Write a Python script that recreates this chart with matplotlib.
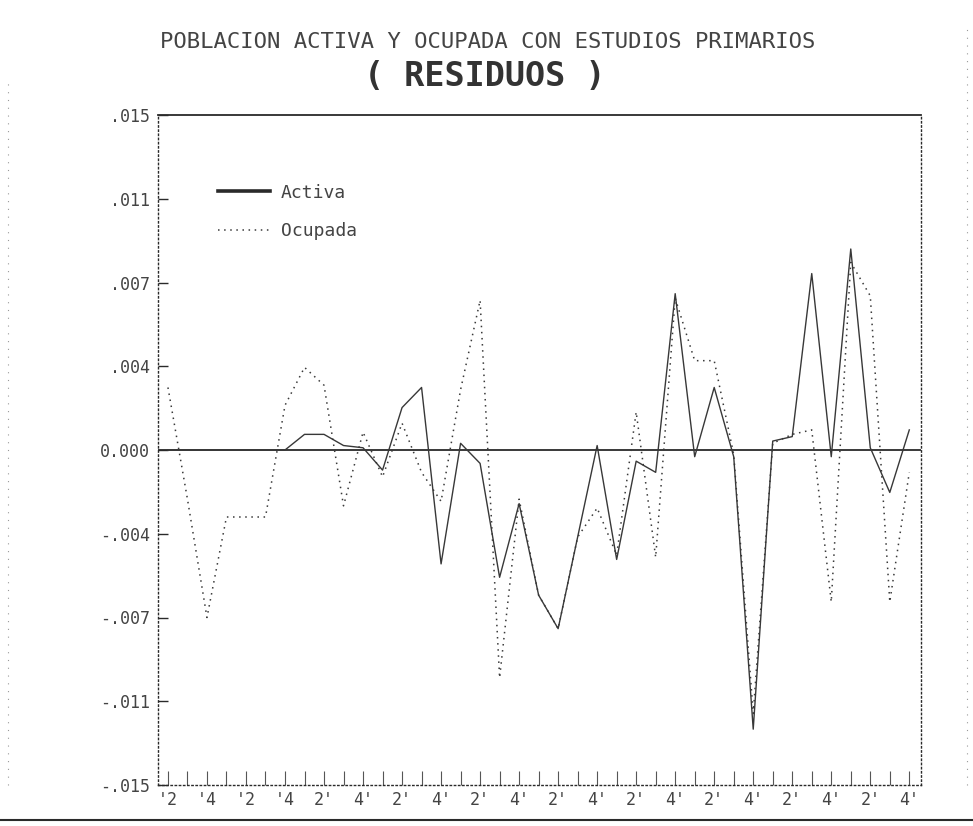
import matplotlib
matplotlib.use("Agg")
import matplotlib.pyplot as plt
from matplotlib.lines import Line2D
import numpy as np

# ---------------- data (quarterly residuals) ----------------
activa = [0.0, 0.0, 0.0, 0.0, 0.0, 0.0, 0.0,
          0.0007, 0.0007, 0.0002, 0.0001,
          -0.0009, 0.0019, 0.0028, -0.0051, 0.0003, -0.0006, -0.0057, -0.0024,
          -0.0065, -0.0080, -0.0039, 0.0002, -0.0049, -0.0005, -0.0010, 0.0070,
          -0.0003, 0.0028, -0.0003, -0.0125, 0.0004, 0.0006, 0.0079, -0.0003,
          0.0090, 0.0001, -0.0019, 0.0009]
ocupada = [0.0028, -0.0022, -0.0075, -0.0030, -0.0030, -0.0030, 0.0020,
           0.0037, 0.0029, -0.0025, 0.0008,
           -0.0012, 0.0012, -0.0010, -0.0023, 0.0027, 0.0067, -0.0102, -0.0022,
           -0.0065, -0.0080, -0.0039, -0.0026, -0.0047, 0.0017, -0.0048, 0.0068,
           0.0040, 0.0040, -0.0002, -0.0118, 0.0003, 0.0007, 0.0009, -0.0068,
           0.0084, 0.0069, -0.0068, -0.0010]
x_labels = ["'2", "'4", "'2", "'4", "2'", "4'", "2'", "4'", "2'", "4'",
            "2'", "4'", "2'", "4'", "2'", "4'", "2'", "4'", "2'", "4'"]
y_ticks = [0.015, 0.01125, 0.0075, 0.00375, 0.0, -0.00375, -0.0075, -0.01125, -0.015]
y_labels = [".015", ".011", ".007", ".004", "0.000", "-.004", "-.007", "-.011", "-.015"]
title = "POBLACION ACTIVA Y OCUPADA CON ESTUDIOS PRIMARIOS"
subtitle = "( RESIDUOS )"

MONO = "DejaVu Sans Mono"
INK = "#2a2a2a"

x = np.arange(len(activa))

fig = plt.figure(figsize=(9.73, 8.26), dpi=100)
fig.patch.set_facecolor("white")
ax = fig.add_axes([158/973, 1-785/826, (921-158)/973, (785-115)/826])

ax.axhline(0, color=INK, lw=1.3, zorder=1)
ax.plot(x, activa, color="#383838", lw=1.0, zorder=3)
ax.plot(x, ocupada, color="#3a3a3a", lw=1.1, linestyle=(0, (1, 3)), zorder=2)

ax.set_xlim(-0.51, 38.6)
ax.set_ylim(-0.015, 0.015)

ax.set_yticks(y_ticks)
ax.set_yticklabels(y_labels, fontfamily=MONO, fontsize=12, color="#444")
ax.set_xticks(np.arange(0, 39, 2))
ax.set_xticklabels(x_labels, fontfamily=MONO, fontsize=12, color="#444")
ax.set_xticks(np.arange(0, 39, 1), minor=True)
ax.tick_params(axis="y", direction="in", length=7, width=1, color=INK, pad=6)
ax.tick_params(axis="x", which="both", direction="in", length=10, width=0.8,
               color="#555", pad=4)

for side in ["left", "right", "bottom"]:
    ax.spines[side].set_linestyle((0, (1, 2)))
    ax.spines[side].set_linewidth(1.0)
    ax.spines[side].set_color(INK)
ax.spines["top"].set_linewidth(1.3)
ax.spines["top"].set_color(INK)

handles = [Line2D([], [], color=INK, lw=2.6),
           Line2D([], [], color="#3a3a3a", lw=1.1, linestyle=(0, (1, 3)))]
ax.legend(handles, ["Activa", "Ocupada"], loc="upper left",
          bbox_to_anchor=(0.057, 0.922), frameon=False, handlelength=2.9,
          handletextpad=0.6, prop={"family": MONO, "size": 13},
          labelcolor="#444", labelspacing=1.15)

fig.text(488/973, 1-42/826, title, ha="center", va="center",
         fontfamily=MONO, fontsize=16, color="#444")
fig.text(485/973, 1-77/826, subtitle, ha="center", va="center",
         fontfamily=MONO, fontsize=24, fontweight="bold", color="#333")

# page border marks of the printout
fig.add_artist(Line2D([0.0, 1.0], [1-820/826, 1-820/826], transform=fig.transFigure,
                      color=INK, lw=1.5))
fig.add_artist(Line2D([8/973, 8/973], [0.05, 0.9], transform=fig.transFigure,
                      color="#999", lw=0.8, linestyle=(0, (1, 6))))
fig.add_artist(Line2D([967/973, 967/973], [0.05, 0.97], transform=fig.transFigure,
                      color="#999", lw=0.8, linestyle=(0, (1, 6))))

fig.savefig("out.png", dpi=100, facecolor="white")
